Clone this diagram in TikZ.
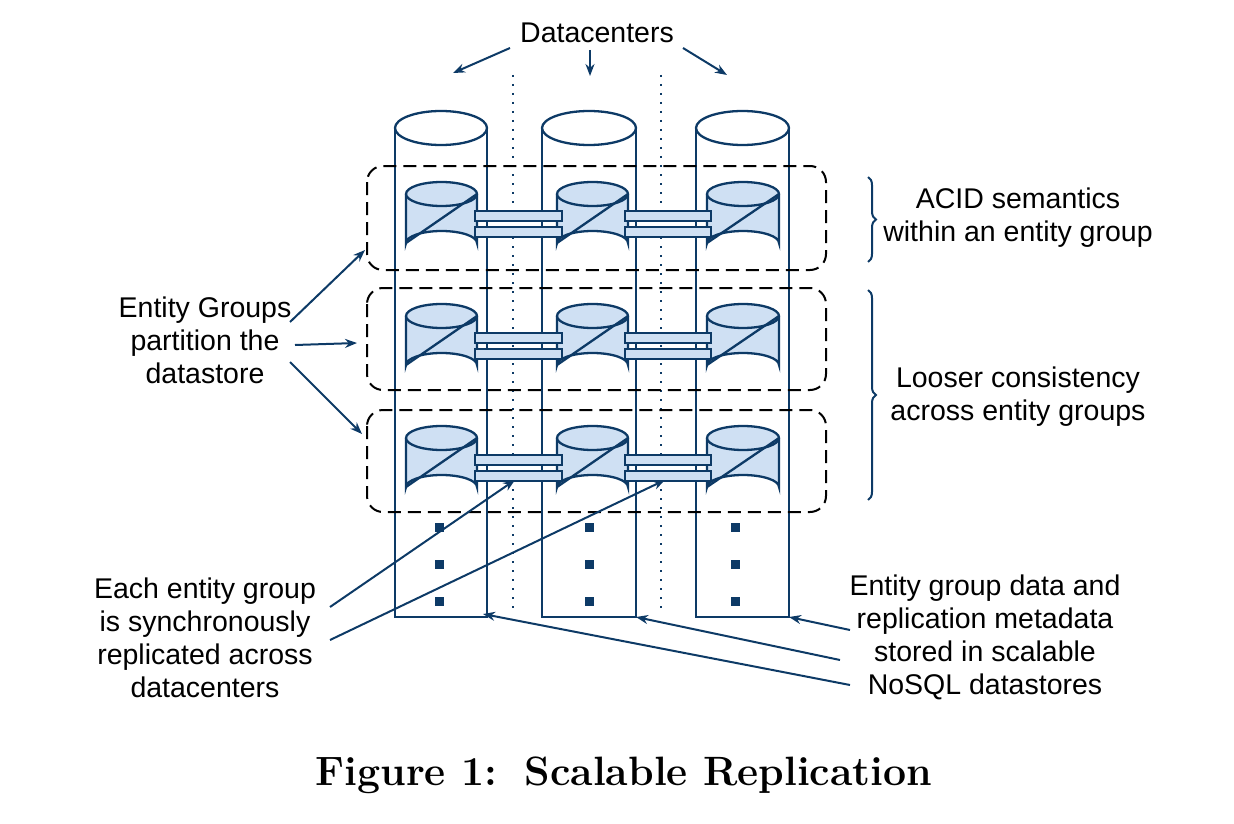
\documentclass[tikz,border=0pt]{standalone}
\usepackage{fontspec}
\setmainfont{Liberation Sans}
\newfontfamily\capfont{Latin Modern Roman}
\usetikzlibrary{arrows.meta,decorations.pathreplacing}
\definecolor{db}{HTML}{0D3A66}
\definecolor{lb}{HTML}{CFE0F3}
\begin{document}
\begin{tikzpicture}[x=1pt,y=-1pt,
  line/.style={db,line width=2.3pt},
  arr/.style={db,line width=2pt,-{Stealth[length=12pt,width=9pt]}},
  txt/.style={font=\fontsize{28.5}{33}\selectfont,align=center,text=black},
  grp/.style={black,line width=2pt,dash pattern=on 13pt off 7pt,rounded corners=16pt},
  dotl/.style={db,line width=2.2pt,dash pattern=on 2pt off 7pt},
  bar/.style={db,fill=lb,line width=2pt},
  dot/.style={fill=db,draw=none,minimum size=9pt,inner sep=0pt}]
\useasboundingbox (0,0) rectangle (1234,824);
% big cylinders
\foreach \l/\r/\n in {395/487/A,542/636/B,696/789/C}{
  \draw[line] (\l,128) -- (\l,617) -- (\r,617) -- (\r,128);
  \draw[line,fill=white] ({(\l+\r)/2},128) ellipse ({(\r-\l)/2} and 17);
  \coordinate (bot\n) at (\r,617);
}
% dotted separators
\draw[dotl] (513,75) -- (513,612);
\draw[dotl] (661,75) -- (661,612);
% rows
\foreach \y/\k in {194/1,316/2,438/3}{
  \foreach \l/\r/\n in {406/477/a,557/628/b,707/779/c}{
    \fill[lb] (\l,\y) -- (\l,\y+49) arc[start angle=180,end angle=360,x radius={(\r-\l)/2},y radius=12] -- (\r,\y) -- cycle;
    \draw[line] (\l,\y) -- (\l,\y+49) arc[start angle=180,end angle=360,x radius={(\r-\l)/2},y radius=12] -- (\r,\y);
    \draw[line,fill=lb] ({(\l+\r)/2},\y) ellipse ({(\r-\l)/2} and 12);
    \draw[line] (\l,\y+49) -- (\r,\y);
  }
  \draw[bar] (475,\y+17) rectangle (562,\y+27);
  \draw[bar] (475,\y+33) rectangle (562,\y+43);
  \draw[bar] (625,\y+17) rectangle (711,\y+27);
  \draw[bar] (625,\y+33) rectangle (711,\y+43);
  \coordinate (bA\k) at (515,\y+42);
  \coordinate (bB\k) at (665,\y+42);
}
\draw[grp] (367,166) rectangle (826,270);
\draw[grp] (367,288) rectangle (826,390);
\draw[grp] (367,410) rectangle (826,512);
% continuation dots
\foreach \x in {439,589,735}\foreach \y in {527,564,601}\node[dot] at (\x,\y) {};
% top labels
\node[txt] (dc) at (597,33) {Datacenters};
\draw[arr] (510,48) -- (453,73);
\draw[arr] (590,50) -- (590,76);
\draw[arr] (683,48) -- (727,75);
% braces
\draw[db,line width=2pt,decorate,decoration={brace,amplitude=8pt}] (868,177) -- (868,262);
\draw[db,line width=2pt,decorate,decoration={brace,amplitude=8pt}] (868,290) -- (868,500);
\node[txt] (acid) at (1018,218) {ACID semantics\\within an entity group};
\node[txt] (loose) at (1018,397) {Looser consistency\\across entity groups};
% left
\node[txt] (eg) at (205,340) {Entity Groups\\partition the\\datastore};
\coordinate (g1) at (365,250);\coordinate (g2) at (357,343);\coordinate (g3) at (362,434);
\draw[arr] (290,322) -- (g1);
\draw[arr] (295,345) -- (g2);
\draw[arr] (290,362) -- (g3);
\node[txt] (each) at (205,638) {Each entity group\\is synchronously\\replicated across\\datacenters};
\draw[arr] (330,607) -- (bA3);
\draw[arr] (330,640) -- (bB3);
\node[txt] (nosql) at (985,637) {Entity group data and\\replication metadata\\stored in scalable\\NoSQL datastores};
\draw[arr] (850,630) -- (botC);
\draw[arr] (840,660) -- (botB);
\draw[arr] (850,685) -- ([xshift=-4pt,yshift=3pt]botA);
\node[font=\capfont\bfseries\fontsize{41}{44}\selectfont] (cap) at (624,775) {Figure 1:\, Scalable Replication};
\end{tikzpicture}
\end{document}
